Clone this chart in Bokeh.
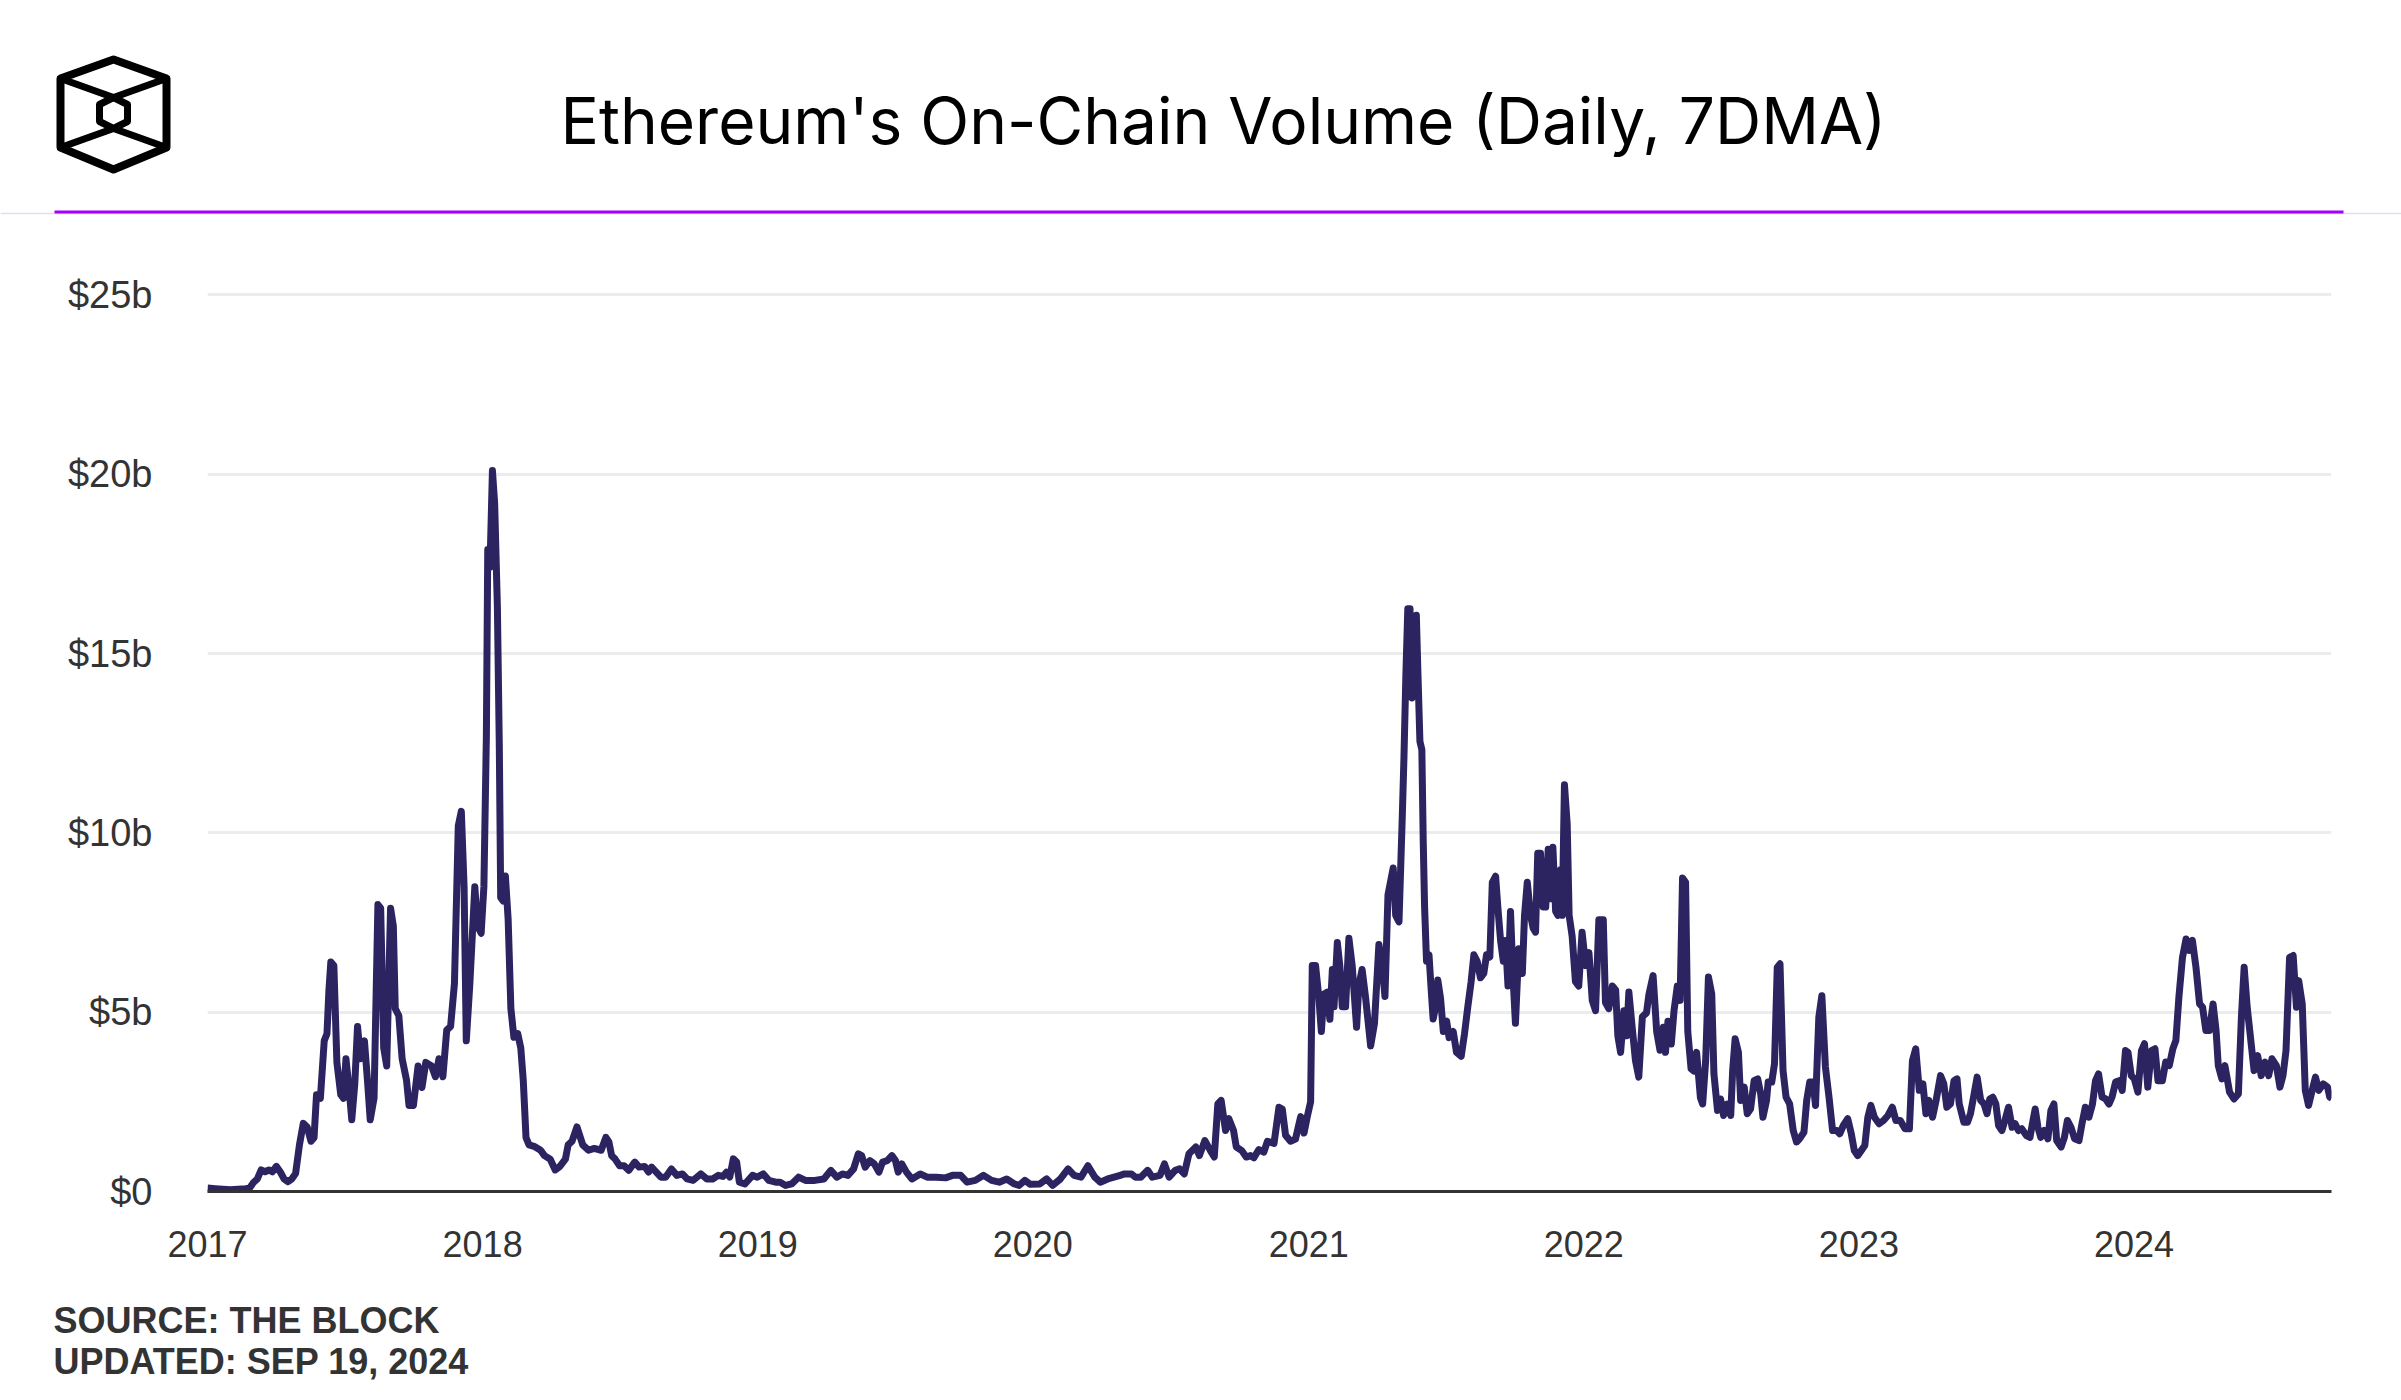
from datetime import datetime
import numpy as np
import pandas as pd
from bokeh.plotting import figure
from bokeh.models import Range1d, FixedTicker, ColumnDataSource, Label, DatetimeTickFormatter
from bokeh.embed import file_html
from bokeh.resources import INLINE

# ---------------- data (decimal year, $ billions, 7-day moving average) ----------------
yr_2017 = [2017.000, 2017.028, 2017.083, 2017.139, 2017.153, 2017.167, 2017.181, 2017.195, 2017.209, 2017.223,
           2017.236, 2017.250, 2017.264, 2017.278, 2017.292, 2017.306, 2017.320, 2017.334, 2017.348, 2017.362,
           2017.376, 2017.387, 2017.396, 2017.410, 2017.424, 2017.434, 2017.441, 2017.448, 2017.459, 2017.470,
           2017.484, 2017.494, 2017.503, 2017.515, 2017.524, 2017.535, 2017.545, 2017.556, 2017.570, 2017.581,
           2017.591, 2017.605, 2017.619, 2017.629, 2017.640, 2017.651, 2017.665, 2017.675, 2017.682, 2017.695,
           2017.707, 2017.723, 2017.732, 2017.748, 2017.765, 2017.779, 2017.793, 2017.814, 2017.828, 2017.841,
           2017.855, 2017.869, 2017.883, 2017.897, 2017.911, 2017.922, 2017.932, 2017.940, 2017.953, 2017.971,
           2017.981, 2017.994, 2018.004, 2018.013, 2018.018, 2018.026, 2018.035, 2018.043, 2018.053, 2018.060,
           2018.065, 2018.074, 2018.082, 2018.092, 2018.102, 2018.113, 2018.127, 2018.138, 2018.147, 2018.157,
           2018.168, 2018.189, 2018.210, 2018.224, 2018.245, 2018.263, 2018.280, 2018.300, 2018.310, 2018.324,
           2018.342, 2018.363, 2018.384, 2018.405, 2018.430]
vol_2017 = [0.1, 0.08, 0.05, 0.08, 0.1, 0.25, 0.35, 0.6, 0.55, 0.6,
            0.55, 0.7, 0.55, 0.35, 0.27, 0.35, 0.5, 1.3, 1.9, 1.8,
            1.4, 1.5, 2.7, 2.6, 4.2, 4.4, 5.6, 6.4, 6.3, 3.6,
            2.7, 2.6, 3.7, 2.8, 2.0, 3.0, 4.6, 3.7, 4.2, 3.1,
            2.0, 2.6, 8.0, 7.9, 4.0, 3.5, 7.9, 7.4, 5.1, 4.9,
            3.7, 3.1, 2.4, 2.4, 3.5, 2.9, 3.6, 3.5, 3.2, 3.7,
            3.2, 4.5, 4.6, 5.8, 10.2, 10.6, 8.5, 4.2, 5.8, 8.5,
            7.4, 7.2, 8.5, 12.7, 17.9, 17.4, 20.1, 19.2, 16.3, 12.4,
            8.2, 8.1, 8.8, 7.6, 5.1, 4.3, 4.4, 4.0, 3.1, 1.5,
            1.3, 1.25, 1.15, 1.0, 0.9, 0.6, 0.7, 0.9, 1.3, 1.4,
            1.8, 1.3, 1.15, 1.2, 1.15]

yr_bear = [2018.447, 2018.458, 2018.468, 2018.480, 2018.497, 2018.513, 2018.530, 2018.552, 2018.568, 2018.588,
           2018.602, 2018.613, 2018.630, 2018.647, 2018.664, 2018.685, 2018.705, 2018.725, 2018.742, 2018.764,
           2018.792, 2018.814, 2018.835, 2018.855, 2018.872, 2018.885, 2018.897, 2018.910, 2018.922, 2018.932,
           2018.952, 2018.980, 2018.997,
           2019.019, 2019.039, 2019.064, 2019.080, 2019.100, 2019.122, 2019.147,
           2019.172, 2019.206, 2019.239, 2019.264, 2019.286, 2019.306, 2019.326, 2019.347, 2019.364, 2019.376,
           2019.389, 2019.406, 2019.422, 2019.439, 2019.452, 2019.469, 2019.486, 2019.499, 2019.509, 2019.522,
           2019.539, 2019.559, 2019.589, 2019.614, 2019.648, 2019.681, 2019.706, 2019.736, 2019.759, 2019.789,
           2019.819, 2019.848, 2019.876, 2019.903, 2019.931, 2019.948, 2019.969, 2019.989,
           2020.023, 2020.048,
           2020.070, 2020.098, 2020.126, 2020.148, 2020.173, 2020.198, 2020.223, 2020.243, 2020.270, 2020.293,
           2020.315, 2020.331, 2020.356, 2020.370, 2020.390, 2020.415, 2020.432, 2020.460, 2020.476, 2020.493,
           2020.515, 2020.531, 2020.548, 2020.565, 2020.590, 2020.603, 2020.623, 2020.643, 2020.657, 2020.670,
           2020.682, 2020.698, 2020.710, 2020.727, 2020.737, 2020.757, 2020.773]
vol_bear = [1.51, 1.38, 1.0, 0.91, 0.72, 0.72, 0.59, 0.82, 0.68, 0.7,
            0.54, 0.68, 0.54, 0.4, 0.4, 0.63, 0.45, 0.49, 0.35, 0.31,
            0.49, 0.35, 0.35, 0.45, 0.42, 0.54, 0.4, 0.91, 0.82, 0.26,
            0.21, 0.45, 0.4,
            0.49, 0.31, 0.26, 0.26, 0.17, 0.21, 0.4,
            0.31, 0.31, 0.35, 0.59, 0.4, 0.49, 0.45, 0.63, 1.05, 1.0,
            0.68, 0.86, 0.77, 0.54, 0.82, 0.86, 1.0, 0.86, 0.54, 0.77,
            0.54, 0.35, 0.49, 0.4, 0.4, 0.38, 0.45, 0.45, 0.26, 0.31,
            0.45, 0.31, 0.26, 0.35, 0.21, 0.17, 0.31, 0.2,
            0.21, 0.35,
            0.17, 0.35, 0.63, 0.45, 0.4, 0.72, 0.4, 0.26, 0.35, 0.4,
            0.45, 0.49, 0.49, 0.4, 0.4, 0.59, 0.4, 0.45, 0.77, 0.4,
            0.59, 0.63, 0.49, 1.05, 1.24, 1.0, 1.42, 1.14, 0.96, 2.44,
            2.54, 1.7, 2.03, 1.7, 1.24, 1.14, 0.96]

yr_2021 = [2020.789, 2020.801, 2020.819, 2020.837, 2020.850, 2020.874, 2020.892, 2020.904, 2020.916, 2020.934,
           2020.952, 2020.971, 2020.983, 2020.995, 2021.007, 2021.013, 2021.025, 2021.037, 2021.046, 2021.055,
           2021.067, 2021.077, 2021.086, 2021.092, 2021.104, 2021.113, 2021.122, 2021.134, 2021.146, 2021.158,
           2021.174, 2021.182, 2021.194, 2021.207, 2021.225, 2021.239, 2021.255, 2021.267, 2021.277, 2021.288,
           2021.307, 2021.316, 2021.328, 2021.340, 2021.346, 2021.353, 2021.360, 2021.368, 2021.375, 2021.382,
           2021.391, 2021.397, 2021.404, 2021.411, 2021.416, 2021.421, 2021.428, 2021.437, 2021.445, 2021.452,
           2021.461, 2021.469, 2021.479, 2021.489, 2021.501, 2021.510, 2021.525, 2021.537, 2021.554, 2021.566,
           2021.578, 2021.590, 2021.600, 2021.612, 2021.624, 2021.636, 2021.646, 2021.658, 2021.667, 2021.679,
           2021.687, 2021.697, 2021.707, 2021.715, 2021.724, 2021.733, 2021.743, 2021.751, 2021.763, 2021.776,
           2021.784, 2021.794, 2021.806, 2021.815, 2021.824, 2021.832, 2021.842, 2021.852, 2021.861, 2021.870,
           2021.878, 2021.887, 2021.897, 2021.905, 2021.915, 2021.921, 2021.929, 2021.939, 2021.946, 2021.957,
           2021.969, 2021.981, 2021.993, 2022.006, 2022.018, 2022.030, 2022.042, 2022.054, 2022.070, 2022.078,
           2022.090, 2022.103, 2022.115, 2022.123, 2022.133, 2022.145, 2022.155, 2022.163, 2022.175, 2022.187,
           2022.199, 2022.212, 2022.227, 2022.236, 2022.251, 2022.264, 2022.276, 2022.288, 2022.296, 2022.305,
           2022.317, 2022.327, 2022.339, 2022.349, 2022.358, 2022.369, 2022.377, 2022.389, 2022.399, 2022.409,
           2022.423]
vol_2021 = [1.0, 0.94, 1.17, 1.1, 1.4, 1.34, 2.35, 2.3, 1.57, 1.4,
            1.46, 2.09, 1.63, 2.09, 2.5, 6.3, 6.3, 5.4, 4.46, 5.5,
            5.56, 4.8, 6.19, 5.15, 6.94, 6.3, 5.15, 5.15, 7.06, 6.3,
            4.58, 5.73, 6.19, 5.38, 4.06, 4.69, 6.89, 6.3, 5.44, 8.27,
            9.02, 7.7, 7.52, 10.47, 12.09, 14.4, 16.25, 16.25, 13.76, 15.55,
            16.07, 14.4, 12.55, 12.32, 9.78, 7.93, 6.42, 6.6, 5.62, 4.81,
            5.15, 5.9, 5.38, 4.46, 4.75, 4.29, 4.46, 3.88, 3.77, 4.4,
            5.15, 5.85, 6.6, 6.42, 5.96, 6.08, 6.6, 6.54, 8.62, 8.79,
            7.93, 7.0, 6.42, 7.0, 5.73, 7.81, 5.85, 4.69, 6.77, 6.08,
            7.7, 8.62, 7.7, 7.35, 7.23, 9.43, 9.43, 7.93, 7.93, 9.54,
            8.16, 9.6, 7.81, 7.7, 8.97, 7.7, 11.34, 10.24, 7.7, 7.12,
            5.85, 5.73, 7.23, 6.3, 6.66, 5.33, 5.04, 7.58, 7.58, 5.27,
            5.1, 5.73, 5.62, 4.34, 3.88, 5.04, 4.34, 5.56, 4.58, 3.65,
            3.19, 4.87, 4.98, 5.5, 6.02, 4.46, 3.94, 4.58, 3.88, 4.75,
            4.11, 5.04, 5.73, 5.33, 8.74, 8.62, 4.46, 3.42, 3.36, 3.88,
            2.61]

yr_2022 = [2022.431, 2022.442, 2022.452, 2022.464, 2022.472, 2022.485, 2022.496, 2022.507, 2022.520, 2022.533,
           2022.540, 2022.549, 2022.561, 2022.569, 2022.582, 2022.593, 2022.605, 2022.618, 2022.631, 2022.642,
           2022.650, 2022.663, 2022.669, 2022.682, 2022.692, 2022.702, 2022.712, 2022.723, 2022.734, 2022.747,
           2022.760, 2022.772, 2022.783, 2022.799, 2022.809, 2022.820, 2022.832, 2022.841, 2022.853, 2022.864,
           2022.877, 2022.890, 2022.903, 2022.918, 2022.929, 2022.942, 2022.958, 2022.971, 2022.982, 2022.994,
           2023.007, 2023.020, 2023.031, 2023.042, 2023.055, 2023.072, 2023.088, 2023.104, 2023.120, 2023.133,
           2023.149, 2023.166, 2023.182, 2023.193, 2023.205, 2023.218, 2023.231, 2023.242, 2023.253, 2023.266,
           2023.279, 2023.295, 2023.307, 2023.318, 2023.331, 2023.344, 2023.355, 2023.363, 2023.380, 2023.393,
           2023.404, 2023.415, 2023.428, 2023.441, 2023.453, 2023.464, 2023.474, 2023.485, 2023.496, 2023.506,
           2023.518, 2023.529, 2023.542, 2023.555, 2023.566, 2023.578, 2023.590, 2023.607, 2023.620, 2023.631,
           2023.639, 2023.649, 2023.659, 2023.672, 2023.685, 2023.696, 2023.707, 2023.717, 2023.733, 2023.745,
           2023.756, 2023.769, 2023.782, 2023.798, 2023.809, 2023.821, 2023.834, 2023.847, 2023.858, 2023.869,
           2023.882, 2023.895, 2023.907, 2023.918, 2023.931, 2023.944, 2023.955, 2023.967, 2023.976, 2023.988,
           2023.999, 2024.012, 2024.025, 2024.036, 2024.048, 2024.061, 2024.074, 2024.085, 2024.101, 2024.113,
           2024.126, 2024.139, 2024.150, 2024.161, 2024.174, 2024.187, 2024.199, 2024.210, 2024.223, 2024.236,
           2024.247, 2024.259, 2024.272, 2024.285, 2024.296, 2024.304, 2024.317, 2024.328, 2024.345, 2024.361,
           2024.377, 2024.388, 2024.398, 2024.409, 2024.421, 2024.434, 2024.447, 2024.460, 2024.474, 2024.487,
           2024.499, 2024.515, 2024.528, 2024.539, 2024.550, 2024.563, 2024.576, 2024.588, 2024.596, 2024.609,
           2024.620, 2024.632, 2024.645, 2024.657, 2024.669, 2024.685, 2024.701, 2024.709, 2024.716]
vol_2022 = [2.44, 3.65, 5.98, 5.51, 3.28, 2.26, 2.58, 2.12, 2.44, 2.12,
            3.37, 4.26, 3.88, 2.54, 2.91, 2.17, 2.3, 3.09, 3.14, 2.72,
            2.07, 2.54, 3.05, 3.05, 3.56, 6.25, 6.35, 3.37, 2.63, 2.44,
            1.7, 1.38, 1.47, 1.65, 2.54, 3.05, 3.05, 2.4, 4.86, 5.46,
            3.47, 2.63, 1.7, 1.7, 1.61, 1.84, 2.03, 1.61, 1.14, 1.0,
            1.14, 1.28, 2.07, 2.4, 2.07, 1.89, 1.98, 2.12, 2.35, 1.98,
            1.98, 1.75, 1.75, 3.65, 3.98, 2.82, 3.0, 2.17, 2.54, 2.07,
            2.54, 3.23, 3.0, 2.35, 2.44, 3.09, 3.14, 2.44, 1.93, 1.93,
            2.17, 2.63, 3.19, 2.54, 2.44, 2.17, 2.58, 2.63, 2.44, 1.84,
            1.7, 1.98, 2.35, 1.79, 1.89, 1.7, 1.75, 1.56, 1.51, 1.98,
            2.3, 1.79, 1.51, 1.7, 1.47, 2.26, 2.44, 1.42, 1.24, 1.51,
            1.98, 1.79, 1.47, 1.42, 1.89, 2.35, 2.07, 2.44, 3.09, 3.28,
            2.63, 2.58, 2.44, 2.63, 3.05, 3.09, 2.82, 3.93, 3.88, 3.23,
            3.14, 2.77, 3.93, 4.12, 2.91, 3.93, 3.98, 3.09, 3.09, 3.61,
            3.51, 3.98, 4.21, 5.42, 6.53, 7.04, 6.72, 7.0, 6.25, 5.23,
            5.14, 4.49, 4.49, 5.23, 4.49, 3.51, 3.14, 3.51, 2.77, 2.58,
            2.72, 4.86, 6.25, 5.14, 4.3, 3.37, 3.79, 3.23, 3.61, 3.23,
            3.7, 3.51, 2.91, 3.23, 3.93, 6.53, 6.58, 5.14, 5.88, 5.23,
            2.82, 2.4, 2.82, 3.19, 2.82, 3.0, 2.91, 2.63, 2.6]

y_ticks = [0, 5, 10, 15, 20, 25]
y_tick_labels = ["$0", "$5b", "$10b", "$15b", "$20b", "$25b"]
x_years = [2017, 2018, 2019, 2020, 2021, 2022, 2023, 2024]

title_text = "Ethereum's On-Chain Volume (Daily, 7DMA)"
source_text = "SOURCE: THE BLOCK"
updated_text = "UPDATED: SEP 19, 2024"

# ---------------- build ----------------
yrs = np.array(yr_2017 + yr_bear + yr_2021 + yr_2022)
vols = np.array(vol_2017 + vol_bear + vol_2021 + vol_2022)
dates = pd.Timestamp("2017-01-01") + pd.to_timedelta((yrs - 2017.0) * 365.25, unit="D")
src = ColumnDataSource(data=dict(date=dates, vol=vols))

W = 2401
H_HDR, H_MAIN, H_FTR = 248, 1042, 100
LINE_COLOR = "#2b2460"
TEXT_COLOR = "#333333"
TICK_FONT = "Liberation Sans"


def blank(h):
    f = figure(width=W, height=h, x_range=Range1d(0, W), y_range=Range1d(h, 0), title=None,
               output_backend="svg", toolbar_location=None, min_border=0)
    f.axis.visible = False
    f.grid.visible = False
    f.outline_line_color = None
    return f


# header (page pixel coordinates, y downward)
hdr = blank(H_HDR)
outer_x = [113, 166, 166, 113, 60, 60]
outer_y = [59, 78, 147, 169, 147, 78]
hdr.patch(outer_x, outer_y, fill_alpha=0, line_color="black", line_width=8, line_join="round")
inner_x = [99, 113, 127, 127, 113, 99]
inner_y = [104, 97, 104, 121, 128, 121]
hdr.patch(inner_x, inner_y, fill_alpha=0, line_color="black", line_width=7, line_join="round")
hdr.multi_line(xs=[[60, 113, 166], [60, 113, 166]], ys=[[78, 97, 78], [147, 128, 147]],
               line_color="black", line_width=7, line_join="round")
hdr.add_layout(Label(x=1223, y=120, text=title_text, text_font="Inter",
                     text_font_size="64px", text_align="center", text_baseline="alphabetic",
                     text_color="#000000"))
hdr.segment(x0=[0], y0=[213], x1=[W], y1=[213], line_color="#e6dcef", line_width=1.5)
hdr.segment(x0=[54], y0=[211.5], x1=[2343], y1=[211.5], line_color="#a400ff", line_width=3)

# main chart
p = figure(width=W, height=H_MAIN, x_axis_type="datetime", title=None,
           x_range=Range1d(datetime(2017, 1, 1), datetime(2024, 9, 19)),
           y_range=Range1d(0, 25.15), output_backend="svg", toolbar_location=None,
           min_border_left=207, min_border_right=70, min_border_top=41, min_border_bottom=99)
p.outline_line_color = None
p.xgrid.visible = False
p.ygrid.ticker = FixedTicker(ticks=y_ticks)
p.ygrid.grid_line_color = "#ececec"
p.ygrid.grid_line_width = 3

p.yaxis.ticker = FixedTicker(ticks=y_ticks)
p.yaxis.major_label_overrides = {t: l for t, l in zip(y_ticks, y_tick_labels)}
p.yaxis.axis_line_color = None
p.yaxis.major_tick_line_color = None
p.yaxis.minor_tick_line_color = None
p.yaxis.major_tick_in = 0
p.yaxis.major_tick_out = 0
p.yaxis.major_label_standoff = 55
p.yaxis.major_label_text_font = TICK_FONT
p.yaxis.major_label_text_font_size = "38px"
p.yaxis.major_label_text_color = TEXT_COLOR

year_ms = [pd.Timestamp(f"{y}-01-01").value // 10**6 for y in x_years]
p.xaxis.ticker = FixedTicker(ticks=year_ms)
p.xaxis.formatter = DatetimeTickFormatter(years="%Y", months="%Y", days="%Y")
p.xaxis.axis_line_color = TEXT_COLOR
p.xaxis.axis_line_width = 3
p.xaxis.major_tick_line_color = None
p.xaxis.minor_tick_line_color = None
p.xaxis.major_tick_in = 0
p.xaxis.major_tick_out = 0
p.xaxis.major_label_standoff = 39
p.xaxis.major_label_text_font = TICK_FONT
p.xaxis.major_label_text_font_size = "36px"
p.xaxis.major_label_text_color = TEXT_COLOR

p.line(x="date", y="vol", source=src, line_color=LINE_COLOR, line_width=7, line_join="round")

# footer
ftr = blank(H_FTR)
ftr.add_layout(Label(x=53, y=30, text=source_text, text_font="Liberation Sans",
                     text_font_size="36px", text_font_style="bold", text_color=TEXT_COLOR,
                     text_baseline="alphabetic"))
ftr.add_layout(Label(x=53, y=71, text=updated_text, text_font="Liberation Sans",
                     text_font_size="36px", text_font_style="bold", text_color=TEXT_COLOR,
                     text_baseline="alphabetic"))

open("out.html", "w").write(file_html([hdr, p, ftr], INLINE))
